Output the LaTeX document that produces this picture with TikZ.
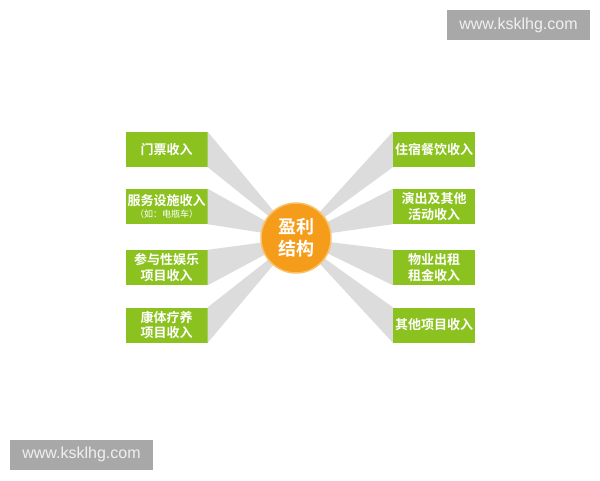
\documentclass[tikz,border=0pt]{standalone}
\usepackage{fontspec}
\setmainfont{Liberation Sans}
\newfontfamily\cjk{Noto Sans CJK SC}[BoldFont={Noto Sans CJK SC Bold}]
\definecolor{boxgreen}{HTML}{8CC220}
\definecolor{huborange}{HTML}{F59D1A}
\definecolor{ringorange}{HTML}{F9C26A}
\definecolor{raygray}{HTML}{DCDCDC}
\definecolor{markgray}{HTML}{A8A8A8}

\begin{document}
\begin{tikzpicture}[x=1pt,y=-1pt,
  incomebox/.style={fill=boxgreen,minimum width=82pt,minimum height=35pt,inner sep=0pt,
    text=white,align=center,font=\cjk\bfseries\fontsize{13}{15.5}\selectfont},
  ray/.style={fill=raygray},
  watermark/.style={fill=markgray,text=white!94!black,minimum width=143pt,minimum height=30pt,
    inner sep=0pt,font=\fontsize{16}{18}\selectfont}]
\useasboundingbox[fill=white] (0,0) rectangle (600,480);
% hub
\coordinate (hub) at (296,238);
% left column
\node[incomebox] (l1) at (166.5,149.5) {门票收入};
\node[incomebox] (l2) at (166.5,206.5) {服务设施收入\\[-3pt]{\fontsize{9}{10}\selectfont\mdseries （如：电瓶车）}};
\node[incomebox] (l3) at (166.5,267.5) {参与性娱乐\\项目收入};
\node[incomebox] (l4) at (166.5,325) {康体疗养\\项目收入};
% right column
\node[incomebox] (r1) at (434,149.5) {住宿餐饮收入};
\node[incomebox] (r2) at (434,206.5) {演出及其他\\活动收入};
\node[incomebox] (r3) at (434,267.5) {物业出租\\租金收入};
\node[incomebox] (r4) at (434,325) {其他项目收入};
% rays to the hub
\foreach \b in {l1,l2,l3,l4}
  \fill[ray] (\b.north east) -- (\b.south east) -- (hub) -- cycle;
\foreach \b in {r1,r2,r3,r4}
  \fill[ray] (\b.north west) -- (\b.south west) -- (hub) -- cycle;
\draw[ringorange,line width=1.5pt,fill=huborange] (hub) circle (35pt);
\node[text=white,align=center,font=\cjk\bfseries\fontsize{18}{22}\selectfont] (hubtext) at (hub) {盈利\\结构};
% watermarks
\node[watermark] (wm1) at (518.5,25) {www.ksklhg.com};
\node[watermark] (wm2) at (81.5,454.5) {www.ksklhg.com};
\end{tikzpicture}
\end{document}
